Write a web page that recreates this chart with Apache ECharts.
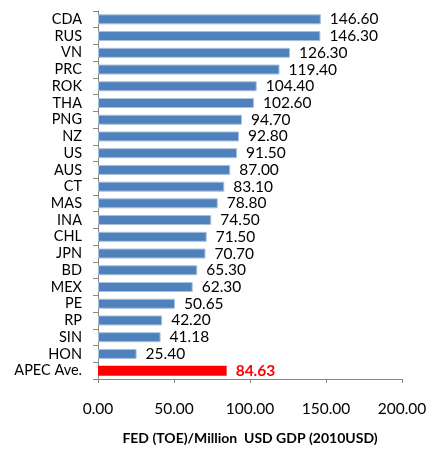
<!DOCTYPE html>
<html><head><meta charset="utf-8">
<script src="https://cdn.jsdelivr.net/npm/echarts@6/dist/echarts.min.js"></script>
<style>html,body{margin:0;padding:0;background:#fff;}#c{width:435px;height:450px;}</style>
</head><body><div id="c"></div>
<script>
const categories = ["CDA","RUS","VN","PRC","ROK","THA","PNG","NZ","US","AUS","CT","MAS","INA","CHL","JPN","BD","MEX","PE","RP","SIN","HON","APEC Ave."];
const values = [146.60,146.30,126.30,119.40,104.40,102.60,94.70,92.80,91.50,87.00,83.10,78.80,74.50,71.50,70.70,65.30,62.30,50.65,42.20,41.18,25.40,84.63];
const xTicks = [0,50,100,150,200];
const axisTitle = "FED (TOE)/Million  USD GDP (2010USD)";
const highlight = "APEC Ave.";

const font = "Lato, 'Open Sans', sans-serif";
const cats = categories.slice().reverse();
const vals = values.slice().reverse();
const data = vals.map((v,i)=>{
  const hi = cats[i]===highlight;
  return {
    value: v,
    itemStyle: hi ? {color:'#FF0000', borderColor:'#FF0000', borderWidth:0} : {color:'#4F81BD', borderColor:'#A9C1DE', borderWidth:1},
    label: hi ? {color:'#FF0000', fontWeight:'bold'} : {}
  };
});
const chart = echarts.init(document.getElementById('c'), null, {renderer:'canvas'});
chart.setOption({
  animation:false,
  grid:{left:98, right:33, top:11, bottom:65, containLabel:false},
  xAxis:{
    type:'value', min:xTicks[0], max:xTicks[xTicks.length-1], interval:50,
    axisLine:{show:true, lineStyle:{color:'#888', width:1}},
    axisTick:{show:true, length:4, lineStyle:{color:'#888'}},
    splitLine:{show:false},
    axisLabel:{formatter:v=>v.toFixed(2), fontFamily:font, fontSize:15.5, color:'#000', margin:22},
    name:axisTitle, nameLocation:'middle', nameGap:52,
    nameTextStyle:{fontFamily:font, fontSize:14, fontWeight:'bold', color:'#000'}
  },
  yAxis:{
    type:'category', data:cats,
    axisLine:{show:true, lineStyle:{color:'#888', width:1}},
    axisTick:{show:true, length:5, lineStyle:{color:'#888'}},
    axisLabel:{interval:0, fontFamily:font, fontSize:14.5, color:'#000', margin:16}
  },
  series:[{
    type:'bar', data:data, barWidth:10,
    label:{show:true, position:'right', distance:9, formatter:p=>p.value.toFixed(2), fontFamily:font, fontSize:15.5, color:'#000'}
  }]
});
</script></body></html>
